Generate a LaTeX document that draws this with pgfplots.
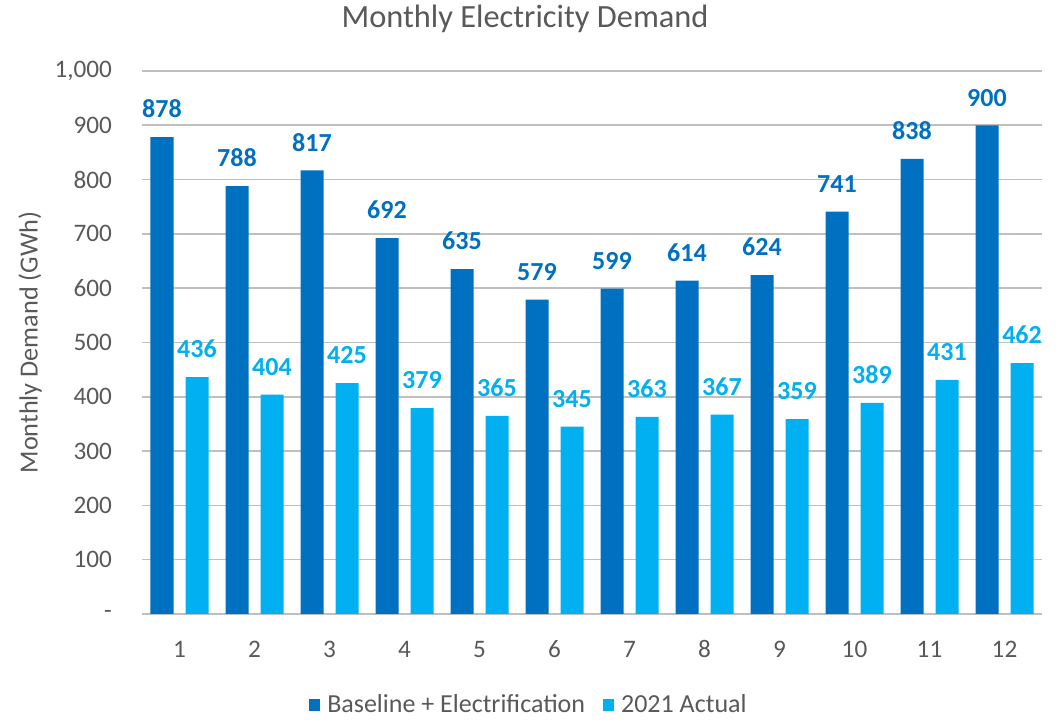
\documentclass[border=0pt]{standalone}
\usepackage{pgfplots}
\pgfplotsset{compat=1.18}
\usepackage{fontspec}
\setmainfont{Carlito}
\definecolor{dark}{HTML}{0070C0}
\definecolor{light}{HTML}{00B0F0}
\definecolor{txt}{HTML}{595959}
\definecolor{grid}{HTML}{D9D9D9}
\definecolor{axline}{HTML}{BFBFBF}
\begin{document}
\begin{tikzpicture}
\begin{axis}[
  name=ax,
  scale only axis,
  width=450pt, height=271.5pt,
  ybar=6pt, bar width=11.5pt,
  xmin=0.5, xmax=12.5,
  ymin=0, ymax=1000,
  xtick={1,...,12},
  xticklabels={1,2,3,4,5,6,7,8,9,10,11,12},
  ytick={0,100,...,1000},
  yticklabels={-,100,200,300,400,500,600,700,800,900,{1,000}},
  ymajorgrids, xmajorgrids=false,
  grid style={grid, line width=0.8pt},
  axis x line*=bottom,
  axis y line*=left,
  x axis line style={draw=axline, line width=0.8pt},
  y axis line style={draw=none},
  major tick length=0pt,
  /pgf/number format/assume math mode=true,
  tick label style={text=txt, font=\fontsize{12.6}{14}\selectfont},
  yticklabel style={xshift=-11.5pt},
  xticklabel style={yshift=-10.5pt, text height=1.6ex, text depth=0pt},
  ylabel={Monthly Demand (GWh)},
  ylabel style={text=txt, font=\fontsize{13.1}{14}\selectfont, at={(rel axis cs:-0.1244,0.5)}, anchor=center},
  title={Monthly Electricity Demand},
  title style={text=txt, font=\fontsize{16.2}{18}\selectfont, inner sep=0pt, at={(rel axis cs:0.4256,1)}, anchor=center, yshift=20pt},
  legend style={draw=none, fill=none, inner sep=1pt, at={(rel axis cs:0.431,0)}, anchor=center, yshift=-45.5pt,
    legend columns=2, font=\fontsize{13}{14}\selectfont, text=txt,
    /tikz/every even column/.append style={column sep=7pt}},
  legend image code/.code={\fill[#1] (0pt,-2.8pt) rectangle (5.6pt,2.8pt); \path (7pt,0pt);},
  nodes near coords,
  every node near coord/.append style={font=\bfseries\fontsize{13}{14}\selectfont, anchor=south, yshift=6pt},
  clip=false,
]
\addplot[fill=dark, draw=none, every node near coord/.append style={text=dark}] coordinates {
(1,878) (2,788) (3,817) (4,692) (5,635) (6,579) (7,599) (8,614) (9,624) (10,741) (11,838) (12,900)};
\addplot[fill=light, draw=none, every node near coord/.append style={text=light}] coordinates {
(1,436) (2,404) (3,425) (4,379) (5,365) (6,345) (7,363) (8,367) (9,359) (10,389) (11,431) (12,462)};
\legend{Baseline + Electrification, 2021 Actual}
\end{axis}
\path (ax.south west) ++(-71pt,-50.5pt) coordinate (bl);
\path (ax.north east) ++(10.5pt,35.5pt) coordinate (tr);
\path (bl) (tr);
\end{tikzpicture}
\end{document}
